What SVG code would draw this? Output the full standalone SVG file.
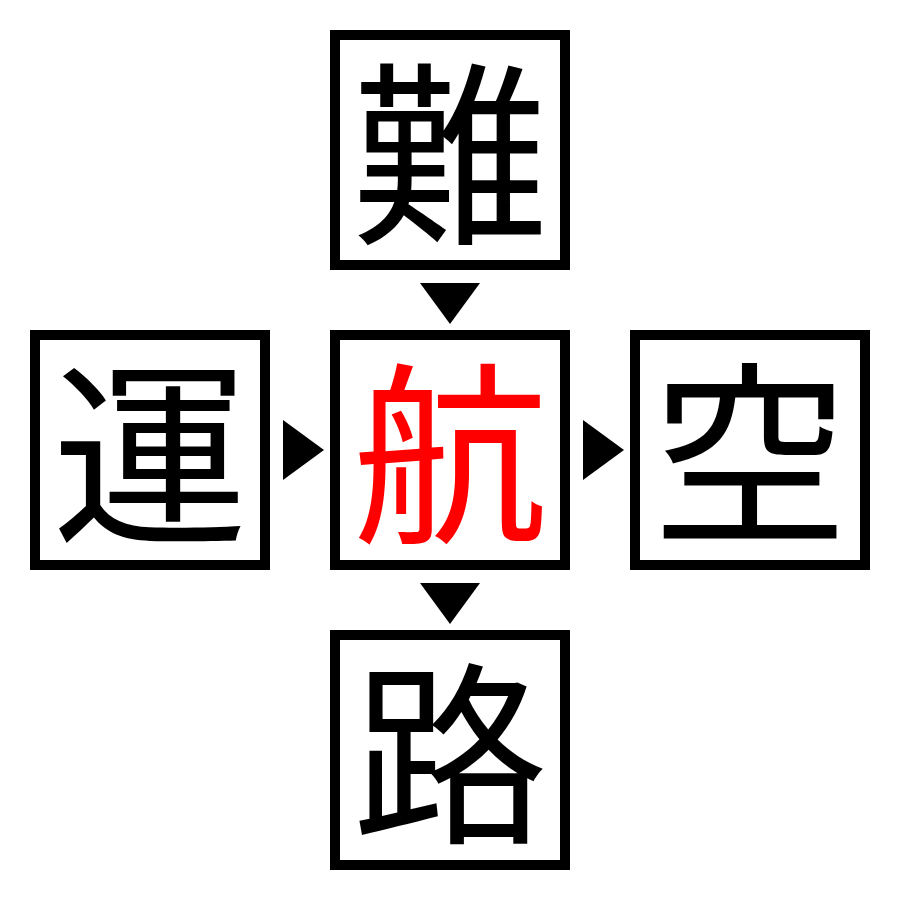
<svg xmlns="http://www.w3.org/2000/svg" width="900" height="900" viewBox="0 0 900 900">
<style>
.box{fill:#fff;stroke:#000;stroke-width:10}
.ch{font-family:"Noto Sans CJK JP","Noto Sans CJK SC",sans-serif;font-size:196px;text-anchor:middle;dominant-baseline:central;fill:#000}
.red{fill:#ff0000}
.arr{fill:#000}
</style>
<rect width="900" height="900" fill="#fff"/>
<g id="node-top"><rect class="box" x="335" y="35" width="230" height="230"/><text class="ch" x="450" y="142">難</text></g>
<g id="node-left"><rect class="box" x="35" y="335" width="230" height="230"/><text class="ch" x="150" y="442">運</text></g>
<g id="node-center"><rect class="box" x="335" y="335" width="230" height="230"/><text class="ch red" x="450" y="442">航</text></g>
<g id="node-right"><rect class="box" x="635" y="335" width="230" height="230"/><text class="ch" x="750" y="442">空</text></g>
<g id="node-bottom"><rect class="box" x="335" y="635" width="230" height="230"/><text class="ch" x="450" y="742">路</text></g>
<g id="connectors">
<polygon class="arr" points="420,283 480,283 450,324"/>
<polygon class="arr" points="420,583 480,583 450,624"/>
<polygon class="arr" points="283,420 283,480 324,450"/>
<polygon class="arr" points="583,420 583,480 624,450"/>
</g>
</svg>
